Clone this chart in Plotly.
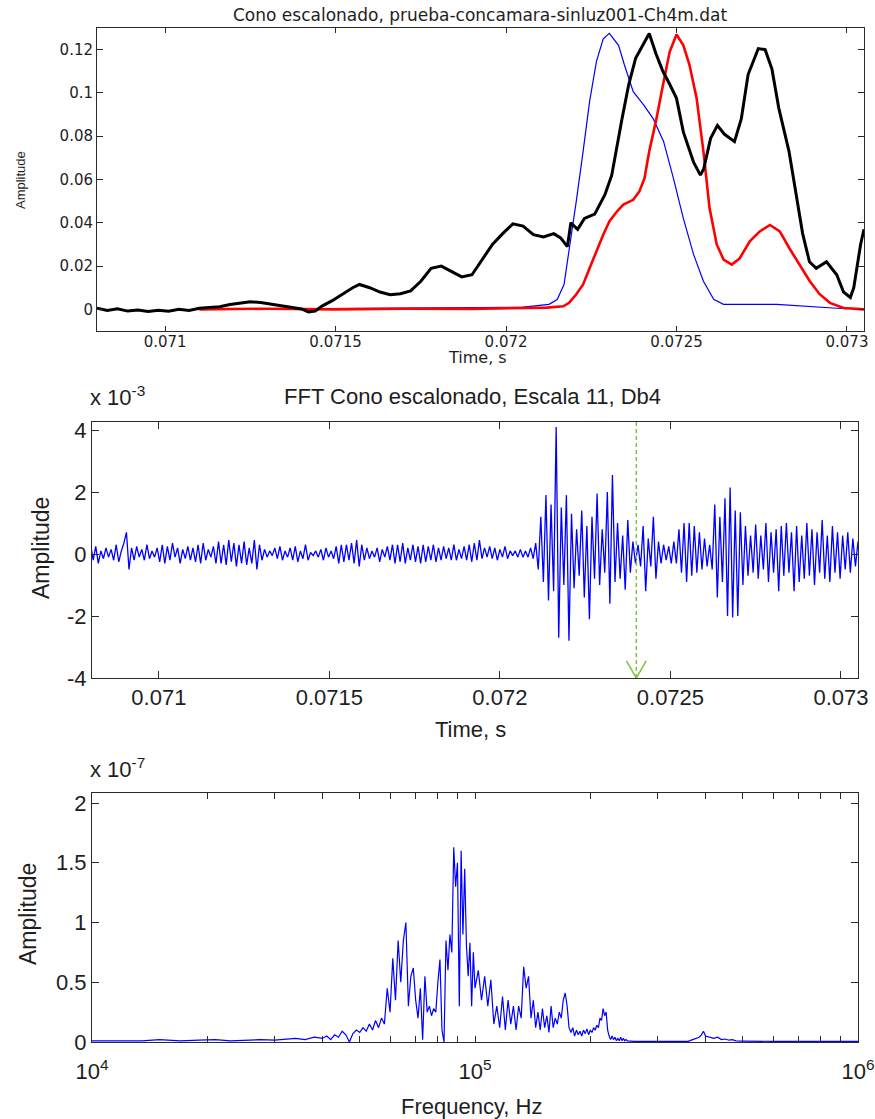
import plotly.graph_objects as go

W, H = 875, 1119

# ---------------- Top panel data (time in s) ----------------
blue_t = [0.07110, 0.07150, 0.07190, 0.07205, 0.072126, 0.07215, 0.07217, 0.072185, 0.072206, 0.072226,
          0.072245, 0.072265, 0.072285, 0.072303, 0.07233, 0.072347, 0.072373, 0.072403, 0.072432, 0.072462,
          0.072491, 0.07252, 0.07255, 0.072579, 0.072609, 0.072638, 0.072794, 0.07297, 0.07300]
blue_v = [0.0, 0.0003, 0.0006, 0.0010, 0.0023, 0.0045, 0.0115, 0.027, 0.050, 0.073,
          0.096, 0.1145, 0.125, 0.1275, 0.122, 0.113, 0.1006, 0.0946, 0.088, 0.0776,
          0.0605, 0.042, 0.0254, 0.013, 0.0046, 0.0023, 0.0023, 0.0005, 0.0003]

red_t = [0.07110, 0.07130, 0.07150, 0.07170, 0.07190, 0.07205, 0.07212, 0.072168, 0.072185, 0.072206,
         0.072226, 0.072245, 0.072265, 0.072285, 0.072303, 0.072324, 0.072344, 0.072373, 0.072391, 0.072406,
         0.07242, 0.072441, 0.072462, 0.07248, 0.0725, 0.07252, 0.072538, 0.072559, 0.072579, 0.072597,
         0.072618, 0.072638, 0.072662, 0.072685, 0.072715, 0.072744, 0.072774, 0.072803, 0.072832, 0.072862,
         0.072891, 0.07292, 0.07295, 0.07299, 0.07305]
red_v = [0.0, 0.0003, 0.0, 0.0003, 0.0002, 0.0005, 0.0008, 0.0014, 0.003, 0.007,
         0.0115, 0.019, 0.027, 0.0345, 0.0406, 0.045, 0.0484, 0.0506, 0.0545, 0.0605,
         0.073, 0.088, 0.105, 0.119, 0.127, 0.122, 0.113, 0.0975, 0.073, 0.0467,
         0.030, 0.023, 0.0207, 0.0235, 0.0314, 0.036, 0.039, 0.036, 0.028, 0.0207,
         0.013, 0.007, 0.003, 0.0006, 0.0]

black_t = [0.07080, 0.07083, 0.07086, 0.07089, 0.07092, 0.07095, 0.07098, 0.07101, 0.07104, 0.07107,
           0.07110, 0.07113, 0.07116, 0.07119, 0.07122, 0.07125, 0.07128, 0.07131, 0.07134, 0.07137,
           0.07140, 0.07142, 0.07144, 0.07146, 0.07149, 0.07152, 0.07155, 0.07157, 0.07160, 0.07163,
           0.07166, 0.07169, 0.07172, 0.07175, 0.07178, 0.07181, 0.07184, 0.07187, 0.07190, 0.07193,
           0.07196, 0.07199, 0.07202, 0.07205, 0.07208, 0.07211, 0.07214, 0.07216, 0.07218, 0.07219,
           0.07221, 0.07223, 0.07226, 0.07229, 0.07231, 0.07234, 0.07236, 0.07238, 0.07240, 0.07242,
           0.07244, 0.07246, 0.07248, 0.07250, 0.07252, 0.07255, 0.07257, 0.07258, 0.07260, 0.07262,
           0.07264, 0.07267, 0.07269, 0.07271, 0.07274, 0.07276, 0.07278, 0.07280, 0.07283, 0.07285,
           0.07287, 0.07289, 0.07291, 0.07294, 0.07297, 0.07299, 0.07301, 0.07302, 0.07304, 0.07305]
black_v = [0.0005, -0.0005, 0.0003, -0.0008, -0.0003, -0.001, -0.0004, -0.0009, 0.0, -0.0005,
           0.0005, 0.001, 0.0012, 0.0022, 0.0030, 0.0035, 0.0032, 0.0025, 0.0015, 0.0010,
           0.0002, -0.0012, -0.0008, 0.0015, 0.0040, 0.0070, 0.0100, 0.0115, 0.0100, 0.0080,
           0.0068, 0.0072, 0.0085, 0.0130, 0.0190, 0.0200, 0.0175, 0.0150, 0.0160, 0.0230,
           0.0300, 0.0350, 0.0395, 0.0385, 0.0345, 0.0335, 0.0350, 0.0330, 0.0290, 0.0400,
           0.0370, 0.0420, 0.0440, 0.0530, 0.0620, 0.0880, 0.1040, 0.1160, 0.1220, 0.1275,
           0.1180, 0.1100, 0.1040, 0.0975, 0.0820, 0.0680, 0.0620, 0.0650, 0.0790, 0.0850,
           0.0810, 0.0775, 0.0880, 0.1085, 0.1205, 0.1200, 0.1110, 0.0930, 0.0730, 0.0545,
           0.0350, 0.0220, 0.0190, 0.0220, 0.0160, 0.0080, 0.0055, 0.0100, 0.0300, 0.0370]

top_xticks = [0.071, 0.0715, 0.072, 0.0725, 0.073]
top_xlabels = ["0.071", "0.0715", "0.072", "0.0725", "0.073"]
top_yticks = [0, 0.02, 0.04, 0.06, 0.08, 0.10, 0.12]
top_ylabels = ["0", "0.02", "0.04", "0.06", "0.08", "0.1", "0.12"]

# ---------------- Middle panel data (amplitude in units of 1e-3) ----------------
sig_t0 = 0.0708
sig_dt = 7.5e-6
fft_signal_e3 = [
    0.3, -0.2, 0.25, -0.3, 0.1, -0.15, 0.2, -0.1, 0.15, -0.2,
    0.3, -0.25, 0.1, 0.35, 0.7, -0.5, 0.2, -0.2, 0.25, -0.1,
    0.15, -0.2, 0.3, -0.15, 0.1, -0.1, 0.2, -0.25, 0.3, -0.3,
    0.25, -0.2, 0.35, -0.1, 0.2, -0.3, 0.15, -0.15, 0.25, -0.2,
    0.2, -0.25, 0.3, -0.3, 0.35, -0.2, 0.15, -0.1, 0.25, -0.3,
    0.4, -0.3, 0.3, -0.35, 0.45, -0.25, 0.35, -0.4, 0.3, -0.3,
    0.4, -0.35, 0.2, -0.3, 0.45, -0.5, 0.3, -0.2, 0.15, -0.1,
    0.1, -0.05, 0.2, -0.15, 0.25, -0.2, 0.1, -0.1, 0.2, -0.2,
    0.25, -0.25, 0.1, -0.15, 0.3, -0.2, 0.05, -0.05, 0.1, -0.1,
    0.15, -0.2, 0.2, -0.1, 0.1, -0.15, 0.25, -0.3, 0.3, -0.25,
    0.3, -0.2, 0.35, -0.3, 0.45, -0.4, 0.3, -0.2, 0.2, -0.15,
    0.1, -0.1, 0.2, -0.25, 0.15, -0.1, 0.25, -0.2, 0.3, -0.3,
    0.3, -0.25, 0.35, -0.3, 0.2, -0.2, 0.3, -0.25, 0.25, -0.3,
    0.3, -0.25, 0.25, -0.2, 0.3, -0.25, 0.2, -0.2, 0.25, -0.15,
    0.2, -0.2, 0.3, -0.2, 0.15, -0.15, 0.25, -0.2, 0.3, -0.25,
    0.35, -0.2, 0.45, -0.15, 0.2, -0.1, 0.25, -0.15, 0.2, -0.2,
    0.15, -0.1, 0.25, -0.15, 0.1, -0.05, 0.1, -0.1, 0.15, -0.1,
    0.1, -0.1, 0.2, -0.15, 0.35, -0.5, 1.2, -0.9, 1.9, -1.5,
    1.6, -1.2, 4.1, -2.7, 1.5, -1.0, 1.9, -2.8, 1.3, -1.1,
    0.8, -0.7, 1.4, -1.4, 0.9, -2.1, 1.2, -0.8, 1.95, -1.0,
    0.8, -0.6, 2.0, -1.6, 2.55, -0.9, 1.0, -0.8, 0.6, -1.15,
    1.1, -0.6, 0.4, -0.3, 0.3, -0.4, 0.9, -1.2, 0.5, -0.4,
    1.2, -0.8, 0.4, -0.3, 0.3, -0.2, 0.25, -0.3, 0.4, -0.3,
    0.8, -0.6, 1.0, -0.9, 1.0, -0.7, 0.9, -0.6, 0.7, -0.5,
    0.5, -0.4, 0.3, -0.5, 1.6, -1.4, 1.2, -0.9, 1.8, -2.0,
    2.15, -2.05, 1.4, -2.0, 1.35, -1.0, 0.9, -0.7, 0.6, -0.6,
    0.95, -0.8, 0.6, -0.5, 1.0, -0.9, 0.7, -0.6, 0.8, -1.2,
    0.9, -0.7, 1.0, -0.6, 0.7, -1.2, 0.9, -0.9, 0.6, -0.8,
    1.0, -0.7, 0.8, -1.0, 0.7, -0.6, 1.1, -0.8, 0.6, -0.9,
    0.9, -0.6, 0.7, -0.8, 0.6, -0.5, 0.7, -0.6, 0.5, -0.4, 0.4,
]
arrow_time = 0.0724
mid_xticks = [0.071, 0.0715, 0.072, 0.0725, 0.073]
mid_xlabels = ["0.071", "0.0715", "0.072", "0.0725", "0.073"]
mid_yticks = [-4, -2, 0, 2, 4]
mid_ylabels = ["-4", "-2", "0", "2", "4"]

# ---------------- Bottom panel data (freq in kHz, amplitude in units of 1e-7) ----------------
freq_khz = [10, 11, 12, 13.5, 15, 17, 19, 21, 23, 25, 27.5, 30, 32, 34, 36, 38, 40, 41, 42, 43,
            44, 45, 46, 47, 48, 49, 50, 51, 52, 53, 54, 55, 56, 57, 58,
            59, 60, 61, 62, 63, 64, 65, 66, 67, 68, 69, 70, 71, 72, 73, 74, 75, 76, 77, 78,
            79, 80, 81, 82, 83, 84, 85, 86, 87, 88, 89, 90, 91, 92, 93, 94, 95, 96, 97, 98, 99, 100,
            102, 104, 106, 108, 110, 112, 114, 116, 118, 120, 122, 124, 126, 128, 130, 132, 134, 136, 138, 140,
            142, 144, 146, 148, 150, 152, 154, 156, 158, 160, 162, 164, 166, 168, 170, 172, 174, 176, 178, 180,
            182, 184, 186, 188, 190, 192, 194, 196, 198, 200, 202, 204, 206, 208, 210, 212, 214, 216, 218, 220,
            222, 224, 226, 228, 230, 232, 234, 236, 238, 240, 242, 244, 246, 248, 250,
            260, 280, 300, 320, 340, 360, 370, 380, 385, 390, 395, 400, 410, 420, 430, 440, 450, 460, 470, 480,
            500, 550, 600, 700, 800, 900, 1000]
spectrum_e7 = [0.01, 0.01, 0.015, 0.01, 0.02, 0.01, 0.015, 0.02, 0.01, 0.015,
               0.02, 0.015, 0.02, 0.03, 0.02, 0.04, 0.03, 0.05, 0.02, 0.06,
               0.04, 0.09, 0.06, 0.0, 0.07, 0.1, 0.08, 0.12, 0.09, 0.15,
               0.1, 0.18, 0.12, 0.2, 0.15,
               0.45, 0.25, 0.7, 0.35, 0.85, 0.5, 0.85, 1.0, 0.3, 0.55, 0.62, 0.35, 0.2, 0.45, 0.02, 0.55, 0.25, 0.3, 0.22, 0.28,
               0.25, 0.5, 0.69, 0.1, 0.0, 0.85, 0.6, 0.9, 0.75, 1.63, 1.3, 1.5, 0.3, 1.6, 0.9, 1.45, 0.8, 0.55, 0.83, 0.3, 0.75, 0.45,
               0.6, 0.35, 0.55, 0.3, 0.52, 0.15, 0.3, 0.12, 0.38, 0.1, 0.35, 0.15, 0.3, 0.1, 0.3, 0.2, 0.63, 0.45, 0.55, 0.2,
               0.35, 0.12, 0.25, 0.1, 0.28, 0.12, 0.22, 0.08, 0.3, 0.12, 0.2, 0.15, 0.25, 0.2, 0.35, 0.41, 0.3, 0.12, 0.08, 0.12,
               0.05, 0.1, 0.06, 0.09, 0.05, 0.1, 0.07, 0.11, 0.06, 0.1, 0.08, 0.12, 0.1, 0.14, 0.12, 0.2, 0.18, 0.28, 0.22, 0.25,
               0.1, 0.05, 0.02, 0.05, 0.02, 0.04, 0.01, 0.03, 0.01, 0.04, 0.01, 0.03, 0.01, 0.02, 0.01,
               0.005, 0.005, 0.005, 0.005, 0.005, 0.005, 0.02, 0.03, 0.04, 0.06, 0.09, 0.05, 0.04, 0.03, 0.04, 0.02, 0.025, 0.015, 0.02, 0.01,
               0.008, 0.005, 0.005, 0.005, 0.006, 0.005, 0.005]
assert len(freq_khz) == len(spectrum_e7)
bot_yticks = [0, 0.5, 1, 1.5, 2]
bot_ylabels = ["0", "0.5", "1", "1.5", "2"]
decades = [4, 5, 6]

# ---------------- helpers ----------------
def px_x(p):
    return p / W

def px_y(p):
    return 1 - p / H

AXC = "#2a2a2a"
TXT = "#1e1e1e"
SANS = "Liberation Sans, Arial, sans-serif"
WIDE = "DejaVu Sans, Verdana, sans-serif"

sig_t = [sig_t0 + i * sig_dt for i in range(len(fft_signal_e3))]
freq_hz = [f * 1000 for f in freq_khz]

fig = go.Figure()
# top panel
fig.add_trace(go.Scatter(x=blue_t, y=blue_v, mode="lines", line=dict(color="#0000ff", width=1.2),
                         xaxis="x", yaxis="y", showlegend=False))
fig.add_trace(go.Scatter(x=red_t, y=red_v, mode="lines", line=dict(color="#ff0000", width=2.6),
                         xaxis="x", yaxis="y", showlegend=False))
fig.add_trace(go.Scatter(x=black_t, y=black_v, mode="lines", line=dict(color="#000000", width=3),
                         xaxis="x", yaxis="y", showlegend=False))
# middle panel
fig.add_trace(go.Scatter(x=sig_t, y=fft_signal_e3, mode="lines", line=dict(color="#0000ff", width=1.3),
                         xaxis="x2", yaxis="y2", showlegend=False))
mid_ymin, mid_ymax = -4, 4.26
fig.add_trace(go.Scatter(x=[arrow_time, arrow_time], y=[mid_ymax, mid_ymin], mode="lines",
                         line=dict(color="#7dc242", width=1.5, dash="4px,3px"),
                         xaxis="x2", yaxis="y2", showlegend=False))
head_w, head_h = 2.9e-5, 0.55
fig.add_trace(go.Scatter(x=[arrow_time - head_w, arrow_time, arrow_time + head_w],
                         y=[mid_ymin + head_h, mid_ymin, mid_ymin + head_h], mode="lines",
                         line=dict(color="#7dc242", width=1.5),
                         xaxis="x2", yaxis="y2", showlegend=False))
# bottom panel
fig.add_trace(go.Scatter(x=freq_hz, y=spectrum_e7, mode="lines", line=dict(color="#0000ff", width=1.2),
                         xaxis="x3", yaxis="y3", showlegend=False))

common = dict(showline=True, linecolor=AXC, linewidth=1, mirror="ticks", ticks="inside",
              tickcolor=AXC, showgrid=False, zeroline=False, automargin=False)

# log ticks for bottom axis
log_vals, log_text = [], []
for e in decades:
    for k in range(1, 10):
        if e == decades[-1] and k > 1:
            break
        log_vals.append(k * 10 ** e)
        log_text.append(f"10<sup>{e}</sup>" if k == 1 else "")

fig.update_layout(
    width=W, height=H, margin=dict(l=0, r=0, t=0, b=0),
    paper_bgcolor="white", plot_bgcolor="white",
    xaxis=dict(domain=[px_x(97), px_x(864)], anchor="y", range=[0.0708, 0.07305],
               tickvals=top_xticks, ticktext=top_xlabels, ticklen=5, ticklabelstandoff=-3,
               tickfont=dict(family=WIDE, size=15, color=TXT), **common),
    yaxis=dict(domain=[px_y(331), px_y(28)], anchor="x", range=[-0.01, 0.13],
               tickvals=top_yticks, ticktext=top_ylabels, ticklen=6,
               tickfont=dict(family=WIDE, size=15, color=TXT), **common),
    xaxis2=dict(domain=[px_x(92), px_x(858)], anchor="y2", range=[0.070804, 0.07305],
                tickvals=mid_xticks, ticktext=mid_xlabels, ticklen=7,
                tickfont=dict(family=SANS, size=22, color=TXT), **common),
    yaxis2=dict(domain=[px_y(678), px_y(422)], anchor="x2", range=[mid_ymin, mid_ymax],
                tickvals=mid_yticks, ticktext=mid_ylabels, ticklen=7,
                tickfont=dict(family=SANS, size=22, color=TXT), **common),
    xaxis3=dict(domain=[px_x(92), px_x(858)], anchor="y3", type="log", range=[4, 6],
                tickvals=log_vals, ticktext=log_text, ticklen=6, ticklabelstandoff=10,
                tickfont=dict(family=SANS, size=22, color=TXT), **common),
    yaxis3=dict(domain=[px_y(1042), px_y(793)], anchor="x3", range=[0, 2.084],
                tickvals=bot_yticks, ticktext=bot_ylabels, ticklen=7,
                tickfont=dict(family=SANS, size=22, color=TXT), **common),
)

ann = []
def add_text(text, x, y, size, family, xanchor="center", yanchor="middle", angle=0):
    ann.append(dict(text=text, x=px_x(x), y=px_y(y), xref="paper", yref="paper",
                    xanchor=xanchor, yanchor=yanchor, showarrow=False, textangle=angle,
                    font=dict(family=family, size=size, color=TXT)))

add_text("Cono escalonado, prueba-concamara-sinluz001-Ch4m.dat", 480, 15, 17, WIDE)
add_text("Time, s", 477, 357, 16, WIDE)
add_text("Amplitude", 20, 180, 13, SANS, angle=-90)

add_text("FFT Cono escalonado, Escala 11, Db4", 472, 396, 22, SANS)
add_text("x 10<sup>-3</sup>", 88, 412, 22, SANS, xanchor="left", yanchor="bottom")
add_text("Amplitude", 41, 548, 23, SANS, angle=-90)
add_text("Time, s", 470, 729, 22, SANS)

add_text("x 10<sup>-7</sup>", 88, 784, 22, SANS, xanchor="left", yanchor="bottom")
add_text("Amplitude", 28, 914, 23, SANS, angle=-90)
add_text("Frequency, Hz", 471, 1106, 22, SANS)

fig.update_layout(annotations=ann)
fig.write_html(
    "out.html",
    config={"displayModeBar": False},
    post_script=(
        "document.documentElement.style.margin='0';"
        "document.documentElement.style.overflow='hidden';"
        "document.body.style.margin='0';"
        "document.body.style.padding='0';"
        "document.body.style.overflow='hidden';"
    ),
)
